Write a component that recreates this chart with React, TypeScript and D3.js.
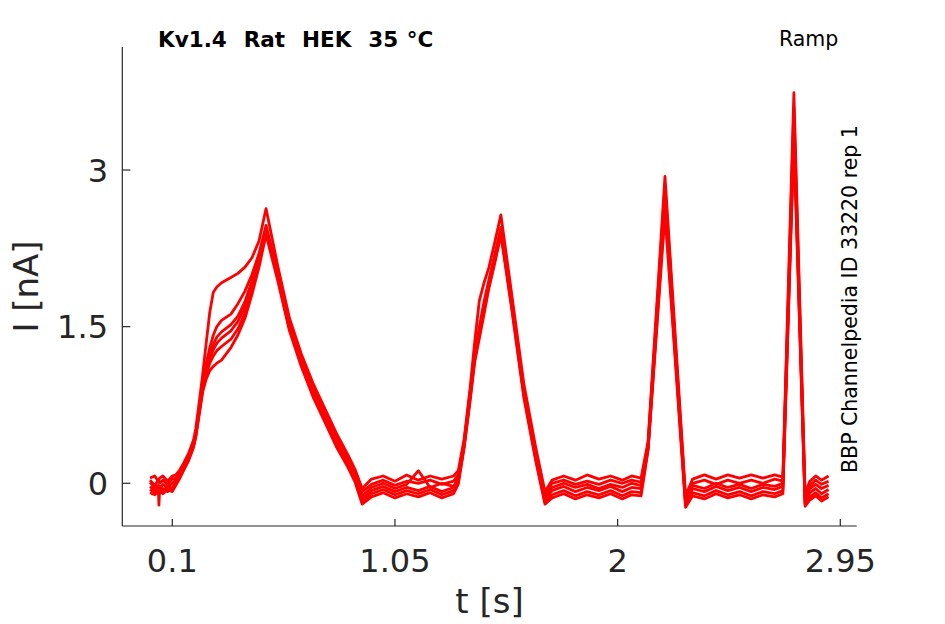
import * as d3 from "d3";

// sample times [s], shared by all sweeps
const T = [
  0.005, 0.025, 0.04, 0.043, 0.046, 0.06, 0.08, 0.1, 0.115, 0.13,
  0.15, 0.17, 0.19, 0.2, 0.215, 0.23, 0.245, 0.26, 0.275, 0.29, 0.31, 0.35, 0.38, 0.41, 0.44, 0.47, 0.5,
  0.55, 0.6, 0.65, 0.7, 0.75, 0.8, 0.85, 0.88, 0.91,
  0.95, 1.0, 1.05, 1.1, 1.15, 1.2, 1.25, 1.3,
  1.32, 1.345, 1.37, 1.39, 1.41, 1.43, 1.45, 1.475, 1.502,
  1.55, 1.6, 1.65, 1.69,
  1.72, 1.77, 1.82, 1.87, 1.92, 1.97, 2.02, 2.06, 2.1,
  2.13, 2.202, 2.29,
  2.32, 2.37, 2.42, 2.47, 2.52, 2.57, 2.62, 2.67, 2.705,
  2.752, 2.8,
  2.82, 2.845, 2.87, 2.9,
];

// current [nA] for each sweep
const sweep1 = [
  0.05, 0.07, 0.02, 0.03, 0.05, 0.07, 0.02, 0.07, 0.08, 0.12,
  0.2, 0.29, 0.41, 0.52, 0.78, 1.05, 1.35, 1.64, 1.83, 1.88, 1.92, 1.97, 2.01, 2.07, 2.16, 2.32, 2.63,
  2.08, 1.58, 1.24, 0.96, 0.72, 0.48, 0.27, 0.13, -0.05,
  0.04, 0.07, 0.02, 0.08, 0.03, 0.07, 0.04, 0.07,
  0.12, 0.42, 0.9, 1.35, 1.75, 1.92, 2.06, 2.3, 2.57,
  1.78, 0.95, 0.35, -0.08,
  0.03, 0.07, 0.03, 0.08, 0.04, 0.07, 0.03, 0.07, 0.05,
  0.4, 2.94, -0.12,
  0.04, 0.08, 0.04, 0.08, 0.05, 0.08, 0.05, 0.08, 0.06,
  3.74, -0.1,
  0.02, 0.07, 0.03, 0.07,
];
const sweep2 = [
  0.03, -0.02, 0.03, 0.02, 0.0, 0.03, -0.01, 0.04, 0.05, 0.1,
  0.17, 0.26, 0.38, 0.48, 0.72, 0.96, 1.15, 1.3, 1.42, 1.5, 1.56, 1.62, 1.72, 1.84, 2.0, 2.2, 2.47,
  2.02, 1.55, 1.22, 0.93, 0.69, 0.46, 0.25, 0.12, -0.08,
  -0.01, 0.03, -0.02, 0.02, 0.0, 0.03, -0.01, 0.02,
  0.08, 0.4, 0.86, 1.25, 1.5, 1.74, 1.94, 2.18, 2.45,
  1.72, 0.9, 0.3, -0.12,
  0.0, 0.03, -0.01, 0.02, -0.01, 0.03, 0.0, 0.03, 0.01,
  0.38, 2.85, -0.16,
  0.0, 0.03, -0.01, 0.03, 0.0, 0.03, 0.0, 0.04, 0.02,
  3.6, -0.14,
  -0.02, 0.03, -0.01, 0.02,
];
const sweep3 = [
  0.01, -0.04, -0.02, -0.21, -0.05, -0.01, -0.04, 0.0, 0.03, 0.08,
  0.16, 0.25, 0.37, 0.47, 0.7, 0.94, 1.1, 1.24, 1.33, 1.4, 1.45, 1.52, 1.6, 1.74, 1.94, 2.16, 2.44,
  2.0, 1.53, 1.2, 0.91, 0.67, 0.43, 0.22, 0.09, -0.12,
  -0.04, 0.0, -0.05, -0.01, 0.12, -0.04, 0.0, -0.03,
  0.05, 0.38, 0.84, 1.22, 1.46, 1.7, 1.92, 2.16, 2.43,
  1.7, 0.88, 0.28, -0.14,
  -0.04, 0.0, -0.04, -0.01, -0.05, -0.01, -0.04, 0.0, -0.02,
  0.36, 2.78, -0.18,
  -0.02, -0.05, 0.0, -0.04, -0.01, -0.05, -0.01, -0.03, 0.0,
  3.5, -0.17,
  -0.05, -0.01, -0.05, -0.02,
];
const sweep4 = [
  -0.03, -0.07, -0.04, -0.06, -0.03, -0.07, -0.03, -0.05, 0.01, 0.06,
  0.15, 0.24, 0.36, 0.46, 0.69, 0.92, 1.08, 1.2, 1.28, 1.34, 1.39, 1.46, 1.55, 1.69, 1.89, 2.13, 2.43,
  1.98, 1.5, 1.16, 0.87, 0.63, 0.39, 0.19, 0.05, -0.15,
  -0.07, -0.03, -0.08, -0.04, -0.07, -0.03, -0.08, -0.04,
  0.03, 0.36, 0.82, 1.2, 1.43, 1.67, 1.9, 2.14, 2.41,
  1.68, 0.86, 0.26, -0.16,
  -0.07, -0.03, -0.08, -0.04, -0.07, -0.03, -0.08, -0.04, -0.05,
  0.34, 2.72, -0.2,
  -0.05, -0.08, -0.03, -0.07, -0.04, -0.08, -0.04, -0.06, -0.03,
  3.42, -0.19,
  -0.09, -0.05, -0.1, -0.06,
];
const sweep5 = [
  -0.06, -0.09, -0.05, -0.08, -0.09, -0.05, -0.08, -0.04, -0.01, 0.05,
  0.14, 0.23, 0.35, 0.45, 0.68, 0.9, 1.05, 1.15, 1.22, 1.27, 1.31, 1.38, 1.48, 1.63, 1.85, 2.1, 2.41,
  1.96, 1.48, 1.14, 0.85, 0.61, 0.37, 0.17, 0.03, -0.18,
  -0.1, -0.06, -0.11, -0.07, -0.1, -0.06, -0.11, -0.07,
  0.01, 0.35, 0.8, 1.18, 1.41, 1.65, 1.88, 2.12, 2.4,
  1.66, 0.84, 0.24, -0.18,
  -0.11, -0.07, -0.12, -0.08, -0.11, -0.07, -0.12, -0.08, -0.09,
  0.33, 2.65, -0.21,
  -0.09, -0.12, -0.07, -0.11, -0.08, -0.12, -0.08, -0.1, -0.07,
  3.35, -0.2,
  -0.13, -0.09, -0.14, -0.1,
];
const sweep6 = [
  -0.09, -0.11, -0.08, -0.1, -0.07, -0.1, -0.06, -0.08, -0.02, 0.04,
  0.13, 0.22, 0.34, 0.44, 0.66, 0.88, 1.0, 1.08, 1.12, 1.15, 1.18, 1.3, 1.42, 1.58, 1.81, 2.07, 2.38,
  1.94, 1.46, 1.12, 0.83, 0.59, 0.35, 0.15, 0.01, -0.2,
  -0.13, -0.09, -0.14, -0.1, -0.13, -0.09, -0.14, -0.1,
  -0.01, 0.34, 0.78, 1.16, 1.39, 1.62, 1.86, 2.1, 2.38,
  1.64, 0.82, 0.22, -0.2,
  -0.14, -0.1, -0.15, -0.11, -0.14, -0.1, -0.15, -0.11, -0.12,
  0.32, 2.58, -0.23,
  -0.12, -0.15, -0.1, -0.14, -0.11, -0.15, -0.11, -0.13, -0.1,
  3.3, -0.22,
  -0.16, -0.12, -0.17, -0.13,
];
const sweeps = [sweep1, sweep2, sweep3, sweep4, sweep5, sweep6];

const xTicks = [0.1, 1.05, 2, 2.95];
const yTicks = [0, 1.5, 3];

const W = 945;
const H = 624;
const FONT = "'DejaVu Sans', sans-serif";
const INK = "#262626";

export default function App() {
  const x = d3.scaleLinear().domain([-0.1133, 3.02]).range([122.3, 856.7]);
  const y = d3.scaleLinear().domain([-0.409, 4.178]).range([526, 47]);

  const line = d3
    .line<number>()
    .x((_, i) => x(T[i]))
    .y((d) => y(d));

  const [x0, x1] = x.range();
  const [y0, y1] = y.range();

  return (
    <svg
      width={W}
      height={H}
      style={{ position: "absolute", left: 0, top: 0, background: "#fff" }}
      fontFamily={FONT}
    >
      {sweeps.map((s, i) => (
        <path
          key={i}
          d={line(s) ?? ""}
          fill="none"
          stroke="#ff0000"
          strokeWidth={2.8}
          strokeLinejoin="round"
        />
      ))}

      {/* axes */}
      <line x1={x0} x2={x1} y1={y0} y2={y0} stroke={INK} strokeWidth={1.2} />
      <line x1={x0} x2={x0} y1={y0} y2={y1} stroke={INK} strokeWidth={1.2} />
      {xTicks.map((t) => (
        <g key={t}>
          <line x1={x(t)} x2={x(t)} y1={y0} y2={y0 - 7} stroke={INK} strokeWidth={1.2} />
          <text x={x(t)} y={572} textAnchor="middle" fontSize={32} fill={INK}>
            {t}
          </text>
        </g>
      ))}
      {yTicks.map((v) => (
        <g key={v}>
          <line x1={x0} x2={x0 + 8} y1={y(v)} y2={y(v)} stroke={INK} strokeWidth={1.2} />
          <text x={108} y={y(v)} dy="0.36em" textAnchor="end" fontSize={32} fill={INK}>
            {v}
          </text>
        </g>
      ))}

      <text x={(x0 + x1) / 2} y={613} textAnchor="middle" fontSize={34} fill={INK}>
        t [s]
      </text>
      <text
        transform={`translate(38,${(y0 + y1) / 2}) rotate(-90)`}
        textAnchor="middle"
        fontSize={34}
        fill={INK}
      >
        I [nA]
      </text>

      <text
        x={158}
        y={46.7}
        fontSize={21.5}
        fontWeight="bold"
        fill="#000"
        wordSpacing={1}
        style={{ whiteSpace: "pre" }}
      >
        {"Kv1.4  Rat  HEK  35 °C"}
      </text>
      <text x={838.3} y={45.7} textAnchor="end" fontSize={20.5} fill="#000">
        Ramp
      </text>
      <text
        transform="translate(856.7,473) rotate(-90)"
        fontSize={20.5}
        fill="#000"
      >
        BBP Channelpedia ID 33220 rep 1
      </text>
    </svg>
  );
}
